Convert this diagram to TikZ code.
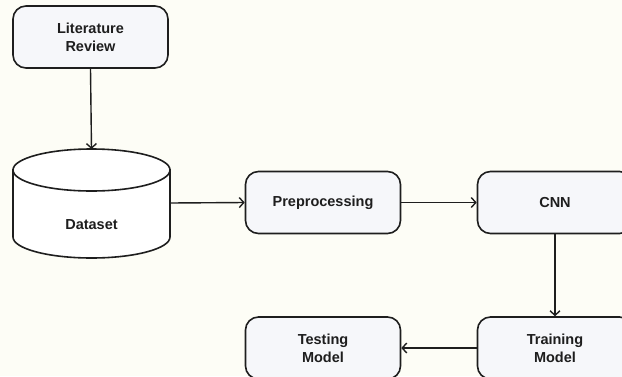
\documentclass[tikz,border=0pt]{standalone}
\usepackage{fontspec}
\setmainfont{Liberation Sans}
\usetikzlibrary{arrows.meta}
\definecolor{bg}{HTML}{FDFDF6}
\definecolor{boxfill}{HTML}{F6F7FA}
\definecolor{ink}{HTML}{1E1E1E}
\begin{document}
\begin{tikzpicture}[x=1pt,y=-1pt,
  box/.style={draw=ink, fill=boxfill, line width=1.6pt, rounded corners=13pt,
    minimum width=155pt, minimum height=62pt, align=center, inner sep=0pt,
    font=\bfseries\fontsize{14.5}{18}\selectfont, text=ink},
  lbl/.style={font=\bfseries\fontsize{14.5}{18}\selectfont, text=ink},
  conn/.style={draw=ink, line width=1.4pt, -{Straight Barb[length=4.5pt,width=10pt]}}]
\fill[bg] (0,0) rectangle (622,376);
\useasboundingbox (0,0) rectangle (622,376);
% Literature Review
\node[box] (lit) at (90.5,37) {Literature\\Review};
% Dataset cylinder
\draw[ink, line width=1.6pt, fill=white] (13,170) -- (13,237)
  arc[start angle=180, end angle=0, x radius=78.5, y radius=21] -- (170,170) -- cycle;
\draw[ink, line width=1.6pt, fill=white] (91.5,170) ellipse [x radius=78.5, y radius=21];
\node[lbl] (ds) at (91.5,225) {Dataset};
\coordinate (dstop) at (91.5,149);
\coordinate (dsright) at (170,203);
% Other boxes
\node[box] (pre) at (323,202.5) {Preprocessing};
\node[box] (cnn) at (555,202.5) {CNN};
\node[box] (train) at (555,348) {Training\\Model};
\node[box] (test) at (323,348) {Testing\\Model};
% Connectors
\draw[conn] (lit.south) -- (dstop);
\draw[conn] (dsright) -- (pre.west);
\draw[conn] (pre.east) -- (cnn.west);
\draw[conn] (cnn.south) -- (train.north);
\draw[conn] (train.west) -- (test.east);
\end{tikzpicture}
\end{document}
